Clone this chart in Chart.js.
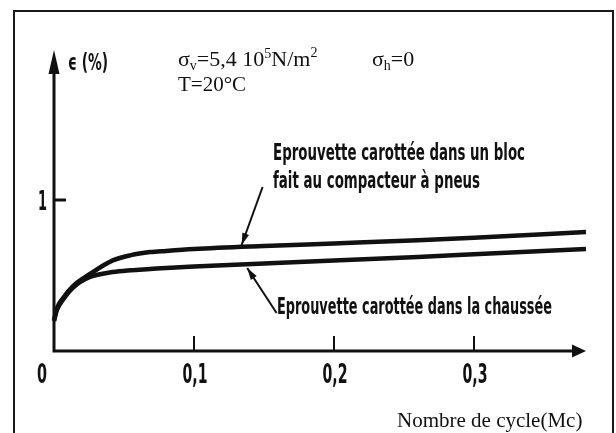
<!DOCTYPE html>
<html>
<head>
<meta charset="utf-8">
<script src="https://cdn.jsdelivr.net/npm/chart.js@4.4.1/dist/chart.umd.min.js"></script>
<style>
  html, body { margin: 0; padding: 0; background: #fff; }
  #wrap { width: 616px; height: 433px; }
</style>
</head>
<body>
<div id="wrap"><canvas id="strain" width="616" height="433"></canvas></div>
<script>
// number of cycles (millions) against permanent strain (%)
const cycles = [0, 0.002, 0.0064, 0.0136, 0.0257, 0.042, 0.055, 0.0686, 0.08, 0.1, 0.15, 0.2, 0.26, 0.3, 0.38];
const strainBloc = [0.20, 0.28, 0.35, 0.43, 0.51, 0.60, 0.635, 0.655, 0.663, 0.675, 0.695, 0.712, 0.733, 0.75, 0.788];
const strainChaussee = [0.20, 0.27, 0.34, 0.42, 0.49, 0.523, 0.535, 0.543, 0.55, 0.56, 0.58, 0.60, 0.623, 0.64, 0.675];
const xTicks = [0, 0.1, 0.2, 0.3];
const xTickLabels = ['0', '0,1', '0,2', '0,3'];
const yTicks = [1];
const yTickLabels = ['1'];
// leader arrows: [from x, from y, to x, to y] in data units
const leaderBloc = [0.149, 1.086, 0.134, 0.702];
const leaderChaussee = [0.159, 0.252, 0.138, 0.55];

const ink = '#111';
const narrow = '"Liberation Sans Narrow", "DejaVu Sans Condensed", "Liberation Sans", sans-serif';
const serif = '"Liberation Serif", "DejaVu Serif", serif';

function toPoints(xs, ys) {
  return xs.map((v, i) => ({ x: v, y: ys[i] }));
}

// draw text squeezed/stretched to a given width
function fitText(ctx, txt, left, base, width, font) {
  ctx.font = font;
  const w = ctx.measureText(txt).width;
  ctx.save();
  ctx.translate(left, base);
  ctx.scale(width / w, 1);
  ctx.textAlign = 'left';
  ctx.textBaseline = 'alphabetic';
  ctx.fillText(txt, 0, 0);
  ctx.restore();
}

// runs of [text, size, rise]
function richText(ctx, runs, left, base) {
  let cx = left;
  ctx.textAlign = 'left';
  ctx.textBaseline = 'alphabetic';
  runs.forEach(([t, size, rise]) => {
    ctx.font = size + 'px ' + serif;
    ctx.fillText(t, cx, base - rise);
    cx += ctx.measureText(t).width;
  });
}

function arrowHead(ctx, fx, fy, tx, ty, len, half) {
  const a = Math.atan2(ty - fy, tx - fx);
  ctx.beginPath();
  ctx.moveTo(tx, ty);
  ctx.lineTo(tx - len * Math.cos(a) + half * Math.sin(a), ty - len * Math.sin(a) - half * Math.cos(a));
  ctx.lineTo(tx - len * Math.cos(a) - half * Math.sin(a), ty - len * Math.sin(a) + half * Math.cos(a));
  ctx.closePath();
  ctx.fill();
}

const frame = {
  id: 'frame',
  beforeDraw(chart) {
    const ctx = chart.ctx;
    ctx.save();
    ctx.fillStyle = '#fff';
    ctx.fillRect(0, 0, chart.width, chart.height);
    ctx.strokeStyle = '#1a1a1a';
    ctx.lineWidth = 2;
    ctx.strokeRect(14, 11, 599, 440);
    ctx.restore();
  }
};

const axes = {
  id: 'axes',
  beforeDatasetsDraw(chart) {
    const { ctx, scales: { x, y } } = chart;
    const x0 = x.getPixelForValue(0), y0 = y.getPixelForValue(0);
    const xEnd = x.getPixelForValue(x.max), yEnd = y.getPixelForValue(y.max);
    ctx.save();
    ctx.strokeStyle = ink;
    ctx.fillStyle = ink;
    ctx.lineWidth = 3;
    ctx.lineCap = 'butt';
    ctx.beginPath();
    ctx.moveTo(x0, yEnd + 15);
    ctx.lineTo(x0, y0);
    ctx.lineTo(xEnd - 10, y0);
    ctx.stroke();
    arrowHead(ctx, x0, y0, x0, yEnd + 1, 24, 5.5);
    arrowHead(ctx, x0, y0, xEnd, y0, 14, 6.5);

    // x ticks point up, y tick points right
    ctx.lineWidth = 2;
    xTicks.forEach(v => {
      if (v === 0) return;
      const px = x.getPixelForValue(v);
      ctx.beginPath();
      ctx.moveTo(px, y0);
      ctx.lineTo(px, y0 - 15);
      ctx.stroke();
    });
    ctx.lineWidth = 3;
    yTicks.forEach(v => {
      const py = y.getPixelForValue(v);
      ctx.beginPath();
      ctx.moveTo(x0, py);
      ctx.lineTo(x0 + 12, py);
      ctx.stroke();
    });

    // tick labels
    const tickFont = 'bold 26px ' + narrow;
    xTicks.forEach((v, i) => {
      const txt = xTickLabels[i];
      const w = txt.length === 1 ? 10 : 25;
      const cx = v === 0 ? x0 - 12 : x.getPixelForValue(v) + 1;
      fitText(ctx, txt, cx - w / 2, 383, w, tickFont);
    });
    yTicks.forEach((v, i) => {
      const py = y.getPixelForValue(v);
      fitText(ctx, yTickLabels[i], 38, py + 10, 9, tickFont);
    });
    ctx.restore();
  },
  afterDatasetsDraw(chart) {
    const { ctx, scales: { x, y } } = chart;
    ctx.save();
    ctx.fillStyle = ink;
    ctx.strokeStyle = ink;

    // leader arrows to the curves
    ctx.lineWidth = 2;
    [leaderBloc, leaderChaussee].forEach(([fx, fy, tx, ty]) => {
      const ax = x.getPixelForValue(fx), ay = y.getPixelForValue(fy);
      const bx = x.getPixelForValue(tx), by = y.getPixelForValue(ty);
      ctx.beginPath();
      ctx.moveTo(ax, ay);
      ctx.lineTo(bx, by);
      ctx.stroke();
      arrowHead(ctx, ax, ay, bx, by, 12, 3.5);
    });

    const labelFont = 'bold 23px ' + narrow;
    fitText(ctx, 'Eprouvette carottée dans un bloc', 273, 160, 252, labelFont);
    fitText(ctx, 'fait au compacteur à pneus', 273, 188, 207, labelFont);
    fitText(ctx, 'Eprouvette carottée dans la chaussée', 277, 314, 275, labelFont);
    fitText(ctx, 'ϵ (%)', 68, 70, 40, 'bold 23px ' + narrow);

    // test conditions
    richText(ctx, [['σ', 22, 0], ['v', 14, -4], ['=5,4 10', 22, 0], ['5', 14, 8], ['N/m', 22, 0], ['2', 14, 9]], 178, 66);
    richText(ctx, [['σ', 22, 0], ['h', 14, -4], ['=0', 22, 0]], 372, 66);
    richText(ctx, [['T=20°C', 21, 0]], 178, 91);
    richText(ctx, [['Nombre de cycle(Mc)', 21, 0]], 397, 427);
    ctx.restore();
  }
};

new Chart(document.getElementById('strain'), {
  type: 'line',
  data: {
    datasets: [
      {
        label: 'Eprouvette carottée dans un bloc fait au compacteur à pneus',
        data: toPoints(cycles, strainBloc),
        borderColor: ink,
        borderWidth: 4.5,
        pointRadius: 0,
        cubicInterpolationMode: 'monotone',
        fill: false,
        clip: false
      },
      {
        label: 'Eprouvette carottée dans la chaussée',
        data: toPoints(cycles, strainChaussee),
        borderColor: ink,
        borderWidth: 4.5,
        pointRadius: 0,
        cubicInterpolationMode: 'monotone',
        fill: false,
        clip: false
      }
    ]
  },
  options: {
    responsive: false,
    animation: false,
    devicePixelRatio: 1,
    layout: { padding: { left: 54, right: 30, top: 49, bottom: 82 } },
    plugins: { legend: { display: false }, tooltip: { enabled: false } },
    scales: {
      x: { type: 'linear', min: 0, max: 0.38, display: false },
      y: { type: 'linear', min: 0, max: 2, display: false }
    }
  },
  plugins: [frame, axes]
});
</script>
</body>
</html>
